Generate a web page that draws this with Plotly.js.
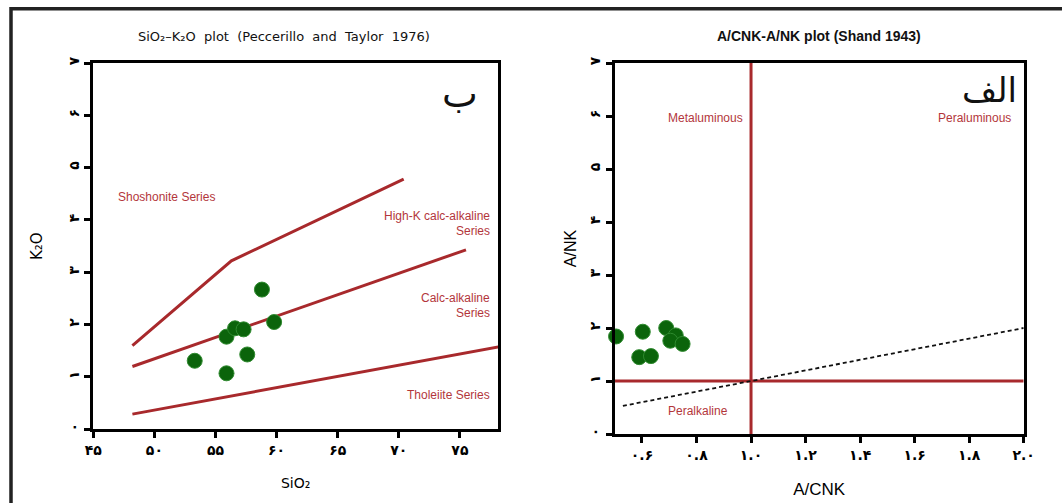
<!DOCTYPE html>
<html>
<head>
<meta charset="utf-8">
<script src="https://cdn.plot.ly/plotly-3.0.1.min.js"></script>
<style>html,body{margin:0;padding:0;background:#fff;}#chart{width:1062px;height:503px;}</style>
</head>
<body>
<div id="chart"></div>
<script>
// ---- Left chart: SiO2 - K2O (Peccerillo & Taylor 1976) ----
const sampleSiO2 = [53.3, 55.9, 55.9, 56.6, 57.3, 57.6, 58.8, 59.8];
const sampleK2O  = [1.31, 1.07, 1.77, 1.93, 1.91, 1.43, 2.67, 2.05];

const shoshoniteX = [48.2, 56.3, 70.4];
const shoshoniteY = [1.6, 3.22, 4.78];
const highKX = [48.2, 75.5];
const highKY = [1.2, 3.43];
const tholeiiteX = [48.2, 78.3];
const tholeiiteY = [0.29, 1.58];

const leftXTickVals = [45, 50, 55, 60, 65, 70, 75];
const leftXTickText = ['۴۵', '۵۰', '۵۵', '۶۰', '۶۵', '۷۰', '۷۵'];
const yTickVals = [0, 1, 2, 3, 4, 5, 6, 7];
const yTickText = ['۰', '۱', '۲', '۳', '۴', '۵', '۶', '۷'];

// ---- Right chart: A/CNK - A/NK (Shand 1943) ----
const sampleACNK = [0.505, 0.603, 0.590, 0.633, 0.689, 0.724, 0.704, 0.749];
const sampleANK  = [1.84, 1.93, 1.45, 1.47, 2.00, 1.86, 1.76, 1.70];

const vertLineX = [1.0, 1.0];
const vertLineY = [0, 7];
const horizLineX = [0.5, 2.0];
const horizLineY = [1.0, 1.0];
const dashLineX = [0.53, 2.0];
const dashLineY = [0.53, 2.0];

const rightXTickVals = [0.6, 0.8, 1.0, 1.2, 1.4, 1.6, 1.8, 2.0];
const rightXTickText = ['۰.۶', '۰.۸', '۱.۰', '۱.۲', '۱.۴', '۱.۶', '۱.۸', '۲.۰'];

const RED = '#a8292c';
const LABEL_RED = '#b3363b';
const GREEN = '#0b640b';

const W = 1062, H = 503;
const px = v => v / W;
const py = v => 1 - v / H;

const marker = {size: 15, color: GREEN, line: {color: '#2f8a2f', width: 1}};

const traces = [
  {x: shoshoniteX, y: shoshoniteY, mode: 'lines', line: {color: RED, width: 3}, xaxis: 'x', yaxis: 'y', hoverinfo: 'skip'},
  {x: highKX, y: highKY, mode: 'lines', line: {color: RED, width: 3}, xaxis: 'x', yaxis: 'y', hoverinfo: 'skip'},
  {x: tholeiiteX, y: tholeiiteY, mode: 'lines', line: {color: RED, width: 3}, xaxis: 'x', yaxis: 'y', hoverinfo: 'skip'},
  {x: sampleSiO2, y: sampleK2O, mode: 'markers', marker: marker, xaxis: 'x', yaxis: 'y'},
  {x: vertLineX, y: vertLineY, mode: 'lines', line: {color: RED, width: 3}, xaxis: 'x2', yaxis: 'y2', hoverinfo: 'skip'},
  {x: horizLineX, y: horizLineY, mode: 'lines', line: {color: RED, width: 3}, xaxis: 'x2', yaxis: 'y2', hoverinfo: 'skip'},
  {x: dashLineX, y: dashLineY, mode: 'lines', line: {color: '#111', width: 1.8, dash: '4px,3px'}, xaxis: 'x2', yaxis: 'y2', hoverinfo: 'skip'},
  {x: sampleACNK, y: sampleANK, mode: 'markers', marker: marker, xaxis: 'x2', yaxis: 'y2', cliponaxis: false}
];

const axisCommon = {
  showline: true, mirror: true, linewidth: 3, linecolor: '#000',
  ticks: 'outside', ticklen: 6, tickwidth: 3, tickcolor: '#000',
  showgrid: false, zeroline: false, fixedrange: true,
  tickfont: {family: 'DejaVu Sans', size: 14, color: '#000', weight: 'bold'},
  tickmode: 'array'
};

const annFont = {family: 'Liberation Sans, Arial, sans-serif', size: 12, color: LABEL_RED};

const layout = {
  width: W, height: H,
  margin: {l: 0, r: 0, t: 0, b: 0},
  paper_bgcolor: '#fff', plot_bgcolor: '#fff',
  showlegend: false,
  xaxis: Object.assign({}, axisCommon, {
    domain: [px(93.3), px(498)], range: [45, 78.12],
    tickvals: leftXTickVals, ticktext: leftXTickText,
    title: {text: 'SiO₂', font: {family: 'DejaVu Sans', size: 14, color: '#000'}, standoff: 22}
  }),
  yaxis: Object.assign({}, axisCommon, {
    domain: [py(429.3), py(63)], range: [0, 7], anchor: 'x',
    tickvals: yTickVals, ticktext: yTickText, tickangle: -90,
    title: {text: 'K₂O', font: {family: 'DejaVu Sans', size: 15, color: '#000'}, standoff: 20}
  }),
  xaxis2: Object.assign({}, axisCommon, {
    domain: [px(614.7), px(1023.7)], range: [0.5, 2.0], anchor: 'y2',
    tickvals: rightXTickVals, ticktext: rightXTickText,
    title: {text: 'A/CNK', font: {family: 'Liberation Sans, Arial, sans-serif', size: 17, color: '#000'}, standoff: 22}
  }),
  yaxis2: Object.assign({}, axisCommon, {
    domain: [py(434), py(63)], range: [0, 7], anchor: 'x2',
    tickvals: yTickVals, ticktext: yTickText, tickangle: -90,
    title: {text: 'A/NK', font: {family: 'Liberation Sans, Arial, sans-serif', size: 16, color: '#000'}, standoff: 7}
  }),
  shapes: [
    {type: 'rect', xref: 'paper', yref: 'paper', x0: px(11), x1: 1.05, y0: -0.05, y1: py(8.7),
     line: {color: '#222', width: 3.5}, fillcolor: 'rgba(0,0,0,0)', layer: 'below'}
  ],
  annotations: [
    {xref: 'paper', yref: 'paper', x: px(284), y: py(36), xanchor: 'center', yanchor: 'middle', showarrow: false,
     text: 'SiO₂–K₂O  plot  (Peccerillo  and  Taylor  1976)',
     font: {family: 'DejaVu Sans', size: 13, color: '#111'}},
    {xref: 'paper', yref: 'paper', x: px(819), y: py(36), xanchor: 'center', yanchor: 'middle', showarrow: false,
     text: '<b>A/CNK-A/NK plot (Shand 1943)</b>',
     font: {family: 'Liberation Sans, Arial, sans-serif', size: 14, color: '#111'}},
    {xref: 'x', yref: 'y', x: 50.97, y: 4.44, showarrow: false, text: 'Shoshonite Series', font: annFont},
    {xref: 'x', yref: 'y', x: 77.6, y: 4.08, xanchor: 'right', showarrow: false, text: 'High-K calc-alkaline', font: annFont},
    {xref: 'x', yref: 'y', x: 77.6, y: 3.79, xanchor: 'right', showarrow: false, text: 'Series', font: annFont},
    {xref: 'x', yref: 'y', x: 77.6, y: 2.50, xanchor: 'right', showarrow: false, text: 'Calc-alkaline', font: annFont},
    {xref: 'x', yref: 'y', x: 77.6, y: 2.22, xanchor: 'right', showarrow: false, text: 'Series', font: annFont},
    {xref: 'x', yref: 'y', x: 77.6, y: 0.66, xanchor: 'right', showarrow: false, text: 'Tholeiite Series', font: annFont},
    {xref: 'x', yref: 'y', x: 75.0, y: 6.4, showarrow: false, text: 'ب', font: {family: 'DejaVu Sans', size: 38, color: '#111'}},
    {xref: 'x2', yref: 'y2', x: 0.833, y: 5.96, showarrow: false, text: 'Metaluminous', font: annFont},
    {xref: 'x2', yref: 'y2', x: 1.961, y: 5.96, xanchor: 'right', showarrow: false, text: 'Peraluminous', font: annFont},
    {xref: 'x2', yref: 'y2', x: 0.806, y: 0.43, showarrow: false, text: 'Peralkaline', font: annFont},
    {xref: 'x2', yref: 'y2', x: 1.873, y: 6.49, showarrow: false, text: 'الف', font: {family: 'DejaVu Sans', size: 34, color: '#111'}}
  ]
};

Plotly.newPlot('chart', traces, layout, {displayModeBar: false, staticPlot: true});
</script>
</body>
</html>
